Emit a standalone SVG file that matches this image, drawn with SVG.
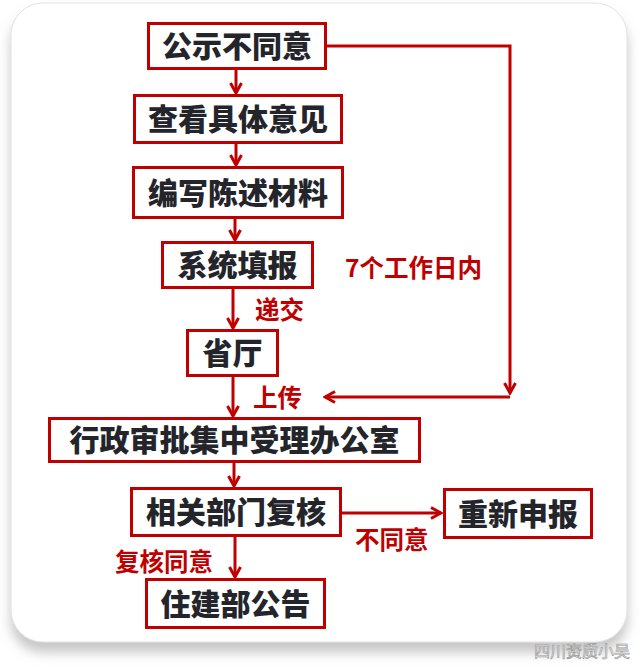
<svg xmlns="http://www.w3.org/2000/svg" width="640" height="668" viewBox="0 0 640 668">
<defs>
<filter id="sh" x="-10%" y="-10%" width="120%" height="120%">
<feDropShadow dx="0" dy="10" stdDeviation="6" flood-color="#8f8f8f" flood-opacity="0.5"/>
</filter>
<marker id="ah" viewBox="0 0 14 14" refX="12" refY="7" markerWidth="14" markerHeight="14" markerUnits="userSpaceOnUse" orient="auto">
<path d="M2,1.5 L12,7 L2,12.5" fill="none" stroke="#c00000" stroke-width="3" stroke-linejoin="miter"/>
</marker>
<style>
.box{fill:#fff;stroke:#c00000;stroke-width:3}
.t{font-family:"Noto Sans CJK SC","Noto Sans",sans-serif;font-weight:900;font-size:30px;fill:#24252a;text-anchor:middle}
.lb{font-family:"Noto Sans CJK SC","Noto Sans",sans-serif;font-weight:bold;font-size:24.5px;fill:#c00000}
.ln{fill:none;stroke:#c00000;stroke-width:3;marker-end:url(#ah)}
</style>
</defs>
<rect x="0" y="0" width="640" height="668" fill="#ffffff"/>
<rect x="11" y="3" width="616" height="639" rx="32" fill="#ffffff" stroke="#e2e2e2" stroke-width="1" filter="url(#sh)"/>

<g id="connectors">
<line class="ln" x1="236" y1="70" x2="236" y2="93"/>
<line class="ln" x1="236" y1="144" x2="236" y2="165"/>
<line class="ln" x1="235" y1="219" x2="235" y2="240"/>
<line class="ln" x1="233" y1="289" x2="233" y2="328"/>
<line class="ln" x1="233" y1="377" x2="233" y2="416"/>
<line class="ln" x1="234" y1="463" x2="234" y2="486"/>
<line class="ln" x1="235" y1="537" x2="235" y2="577"/>
<line class="ln" x1="342" y1="513" x2="441" y2="513"/>
<path class="ln" d="M327,46 H510 V393"/>
<line class="ln" x1="510" y1="397" x2="325" y2="397"/>
<text class="lb" x="345" y="277">7个工作日内</text>
<text class="lb" x="255" y="319">递交</text>
<text class="lb" x="253" y="407">上传</text>
<text class="lb" x="355" y="549">不同意</text>
<text class="lb" x="115" y="571">复核同意</text>
</g>

<g id="n1"><rect class="box" x="148.5" y="23.5" width="177" height="45"/><text class="t" x="237" y="57">公示不同意</text></g>
<g id="n2"><rect class="box" x="134.5" y="95.5" width="207" height="47"/><text class="t" x="238" y="130">查看具体意见</text></g>
<g id="n3"><rect class="box" x="133.5" y="167.5" width="209" height="50"/><text class="t" x="238" y="203.5">编写陈述材料</text></g>
<g id="n4"><rect class="box" x="162.5" y="242.5" width="150" height="45"/><text class="t" x="237.5" y="276">系统填报</text></g>
<g id="n5"><rect class="box" x="187.5" y="330.5" width="90" height="45"/><text class="t" x="232.5" y="364">省厅</text></g>
<g id="n6"><rect class="box" x="49.5" y="418.5" width="370" height="43"/><text class="t" x="234.5" y="451">行政审批集中受理办公室</text></g>
<g id="n7"><rect class="box" x="131.5" y="488.5" width="209" height="47"/><text class="t" x="236" y="523">相关部门复核</text></g>
<g id="n8"><rect class="box" x="444.5" y="489.5" width="147" height="48"/><text class="t" x="518" y="524.5">重新申报</text></g>
<g id="n9"><rect class="box" x="146.5" y="579.5" width="178" height="48"/><text class="t" x="235.5" y="614.5">住建部公告</text></g>

<text x="630" y="657" font-family="'Noto Sans CJK SC',sans-serif" font-size="16" fill="#ffffff" stroke="#9a9a9a" stroke-width="0.7" text-anchor="end">四川资质小吴</text>
</svg>
